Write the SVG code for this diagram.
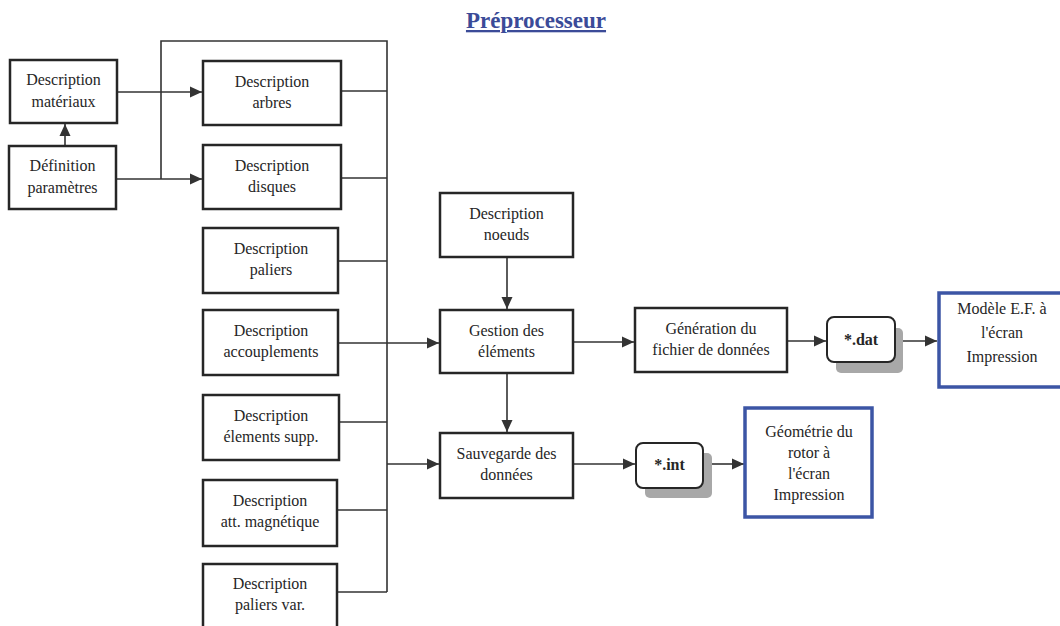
<svg xmlns="http://www.w3.org/2000/svg" width="1060" height="626" viewBox="0 0 1060 626">
<style>
.box{fill:#fff;stroke:#262626;stroke-width:2.5}
.blue{fill:#fff;stroke:#3c55a5;stroke-width:3.5}
.rbox{fill:#fff;stroke:#262626;stroke-width:2}
.shadow{fill:#a8a8a8}
.t{font-family:"Liberation Serif","Times New Roman",serif;font-size:16px;fill:#262626;text-anchor:middle}
.b{font-weight:bold}
.ln{fill:none;stroke:#333;stroke-width:1.6}
.title{font-family:"Liberation Serif","Times New Roman",serif;font-size:23px;font-weight:bold;fill:#3b4b98;text-anchor:middle;text-decoration:underline}
</style>
<defs>
<marker id="ah" viewBox="0 0 12 12" refX="12" refY="6" markerWidth="12" markerHeight="12" markerUnits="userSpaceOnUse" orient="auto">
<path d="M0,0.5 L12,6 L0,11.5 Z" fill="#333"/>
</marker>
</defs>
<rect width="1060" height="626" fill="#fff"/>
<text class="title" x="536" y="28">Préprocesseur</text>

<g id="connectors">
<path class="ln" d="M65,146 V124" marker-end="url(#ah)"/>
<path class="ln" d="M117,92 H202" marker-end="url(#ah)"/>
<path class="ln" d="M116,179 H202" marker-end="url(#ah)"/>
<path class="ln" d="M161,179 V41 H387 V592"/>
<path class="ln" d="M341,91 H387"/>
<path class="ln" d="M341,178 H387"/>
<path class="ln" d="M338,261 H387"/>
<path class="ln" d="M339,422 H387"/>
<path class="ln" d="M337,510 H387"/>
<path class="ln" d="M337,592 H387"/>
<path class="ln" d="M338,343 H439" marker-end="url(#ah)"/>
<path class="ln" d="M387,464 H439" marker-end="url(#ah)"/>
<path class="ln" d="M507,257 V309" marker-end="url(#ah)"/>
<path class="ln" d="M507,373 V432" marker-end="url(#ah)"/>
<path class="ln" d="M573,342 H634" marker-end="url(#ah)"/>
<path class="ln" d="M787,341 H826" marker-end="url(#ah)"/>
<path class="ln" d="M903,341 H937" marker-end="url(#ah)"/>
<path class="ln" d="M573,464 H635" marker-end="url(#ah)"/>
<path class="ln" d="M712,464 H744" marker-end="url(#ah)"/>
</g>

<g id="materiaux"><rect class="box" x="10" y="60" width="107" height="63"/>
<text class="t" x="63.5" y="85">Description</text><text class="t" x="63.5" y="107">matériaux</text></g>
<g id="parametres"><rect class="box" x="9" y="146" width="107" height="63"/>
<text class="t" x="62.5" y="171">Définition</text><text class="t" x="62.5" y="193">paramètres</text></g>

<g id="arbres"><rect class="box" x="203" y="61" width="138" height="64"/>
<text class="t" x="272" y="87">Description</text><text class="t" x="272" y="108">arbres</text></g>
<g id="disques"><rect class="box" x="203" y="145" width="138" height="64"/>
<text class="t" x="272" y="171">Description</text><text class="t" x="272" y="192">disques</text></g>
<g id="paliers"><rect class="box" x="203" y="228" width="135" height="65"/>
<text class="t" x="271" y="254">Description</text><text class="t" x="271" y="275">paliers</text></g>
<g id="accouplements"><rect class="box" x="203" y="310" width="135" height="65"/>
<text class="t" x="271" y="336">Description</text><text class="t" x="271" y="357">accouplements</text></g>
<g id="elements-supp"><rect class="box" x="203" y="395" width="136" height="65"/>
<text class="t" x="271" y="421">Description</text><text class="t" x="271" y="442">élements supp.</text></g>
<g id="att-magnetique"><rect class="box" x="203" y="480" width="134" height="66"/>
<text class="t" x="270" y="506">Description</text><text class="t" x="270" y="527">att. magnétique</text></g>
<g id="paliers-var"><rect class="box" x="203" y="564" width="134" height="66"/>
<text class="t" x="270" y="589">Description</text><text class="t" x="270" y="610">paliers var.</text></g>

<g id="noeuds"><rect class="box" x="440" y="193" width="133" height="64"/>
<text class="t" x="506.5" y="219">Description</text><text class="t" x="506.5" y="240">noeuds</text></g>
<g id="gestion"><rect class="box" x="440" y="310" width="133" height="63"/>
<text class="t" x="506.5" y="336">Gestion des</text><text class="t" x="506.5" y="357">éléments</text></g>
<g id="sauvegarde"><rect class="box" x="440" y="433" width="133" height="65"/>
<text class="t" x="506.5" y="459">Sauvegarde des</text><text class="t" x="506.5" y="480">données</text></g>

<g id="generation"><rect class="box" x="635" y="308" width="152" height="64"/>
<text class="t" x="711" y="334">Génération du</text><text class="t" x="711" y="355">fichier de données</text></g>

<g id="dat"><rect class="shadow" x="836" y="328" width="67" height="45" rx="5"/>
<rect class="rbox" x="827" y="317" width="68" height="45" rx="7"/>
<text class="t b" x="861" y="345">*.dat</text></g>
<g id="int"><rect class="shadow" x="645" y="453" width="67" height="45" rx="5"/>
<rect class="rbox" x="636" y="443" width="67" height="45" rx="7"/>
<text class="t b" x="669.5" y="470">*.int</text></g>

<g id="modele"><rect class="blue" x="939" y="293" width="128" height="94"/>
<text class="t" x="1002" y="314">Modèle E.F. à</text><text class="t" x="1002" y="338">l'écran</text><text class="t" x="1002" y="362">Impression</text></g>
<g id="geometrie"><rect class="blue" x="745" y="408" width="127" height="109"/>
<text class="t" x="809" y="437">Géométrie du</text><text class="t" x="809" y="458">rotor  à</text><text class="t" x="809" y="479">l'écran</text><text class="t" x="809" y="500">Impression</text></g>
</svg>
